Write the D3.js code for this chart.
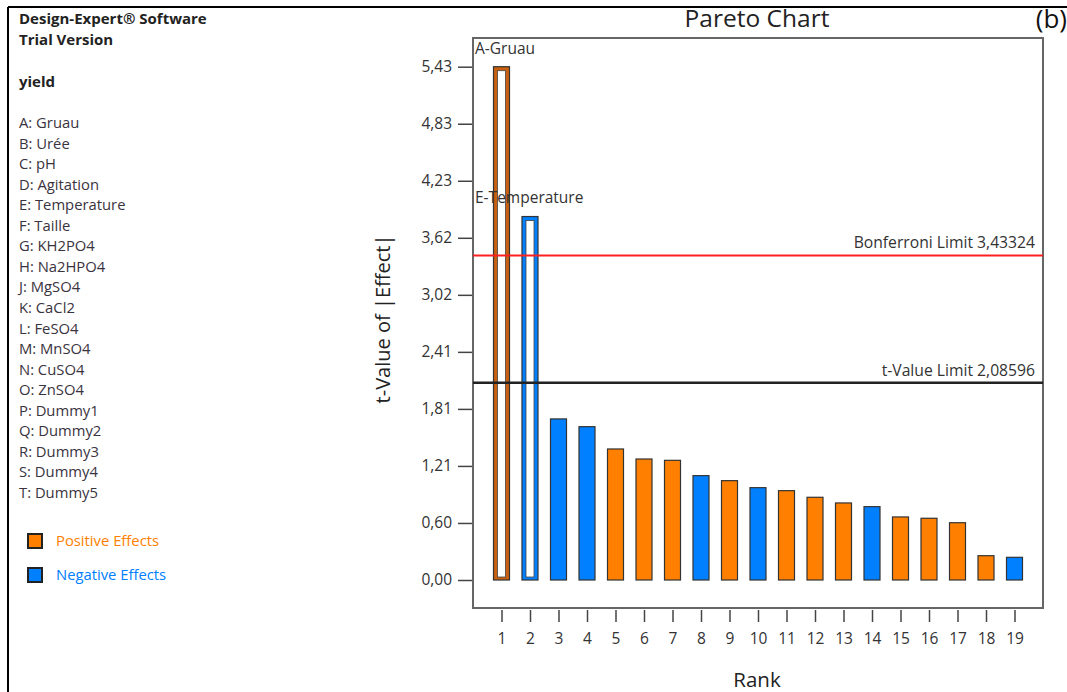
<!DOCTYPE html>
<html>
<head>
<meta charset="utf-8">
<script src="https://cdn.jsdelivr.net/npm/d3@7"></script>
<style>
  body { margin: 0; background: #fff; }
  svg { display: block; font-family: "Open Sans", sans-serif; }
</style>
</head>
<body>
<svg id="chart"></svg>
<script>
// ---------------- data ----------------
const ranks = d3.range(1, 20);
const tValues = [5.43, 3.845, 1.704, 1.622, 1.386, 1.28, 1.266, 1.104, 1.051, 0.977,
                 0.945, 0.875, 0.815, 0.776, 0.667, 0.653, 0.606, 0.257, 0.240];
const effectSign = ["+", "-", "-", "-", "+", "+", "+", "-", "+", "-",
                    "+", "+", "+", "-", "+", "+", "+", "+", "-"];
const barLabels = ["A-Gruau", "E-Temperature"];
const yTickValues = [0, 0.6033, 1.2067, 1.81, 2.4133, 3.0167, 3.62, 4.2233, 4.8267, 5.43];
const yTickLabels = ["0,00", "0,60", "1,21", "1,81", "2,41", "3,02", "3,62", "4,23", "4,83", "5,43"];
const bonferroni = 3.43324;
const tLimit = 2.08596;
const factors = ["A: Gruau", "B: Urée", "C: pH", "D: Agitation", "E: Temperature", "F: Taille",
  "G: KH2PO4", "H: Na2HPO4", "J: MgSO4", "K: CaCl2", "L: FeSO4", "M: MnSO4", "N: CuSO4",
  "O: ZnSO4", "P: Dummy1", "Q: Dummy2", "R: Dummy3", "S: Dummy4", "T: Dummy5"];

// ---------------- setup ----------------
const width = 1067, height = 692;
const svg = d3.select("#chart").attr("width", width).attr("height", height);

const plot = { left: 473, right: 1043, top: 38, bottom: 608 };
const xScale = d3.scaleLinear().domain([0, 20]).range([plot.left, plot.right]);
const yScale = d3.scaleLinear().domain([0, 5.43]).range([580, 66.7]);

const posColor = "#ff8000", negColor = "#0080ff";
const barW = 16;

// outer figure lines
svg.append("line").attr("x1", 8).attr("y1", 7).attr("x2", width).attr("y2", 7)
  .attr("stroke", "#000").attr("stroke-width", 2);
svg.append("line").attr("x1", 8).attr("y1", 7).attr("x2", 8).attr("y2", height)
  .attr("stroke", "#000").attr("stroke-width", 2);

// ---------------- left panel ----------------
svg.append("text").attr("x", 19).attr("y", 24).text("Design-Expert® Software")
  .attr("font-weight", "bold").attr("font-size", 15).attr("fill", "#222");
svg.append("text").attr("x", 19).attr("y", 45).text("Trial Version")
  .attr("font-weight", "bold").attr("font-size", 15).attr("fill", "#222");
svg.append("text").attr("x", 19).attr("y", 87).text("yield")
  .attr("font-weight", "bold").attr("font-size", 15).attr("fill", "#222");

svg.append("g").selectAll("text").data(factors).join("text")
  .attr("x", 19).attr("y", (d, i) => 128 + i * 20.55)
  .attr("font-size", 14.8).attr("fill", "#3a3340")
  .text(d => d);

const legend = [
  { label: "Positive Effects", color: posColor, y: 541 },
  { label: "Negative Effects", color: negColor, y: 575 }
];
const lg = svg.append("g").selectAll("g").data(legend).join("g");
lg.append("rect").attr("x", 28).attr("y", d => d.y - 7).attr("width", 14).attr("height", 14)
  .attr("fill", d => d.color).attr("stroke", "#222").attr("stroke-width", 2);
lg.append("text").attr("x", 56).attr("y", d => d.y + 5).attr("font-size", 14.8)
  .attr("fill", d => d.color).text(d => d.label);

// ---------------- titles ----------------
svg.append("text").attr("x", 757).attr("y", 27).attr("text-anchor", "middle")
  .attr("font-size", 24.5).attr("fill", "#222").text("Pareto Chart");
svg.append("text").attr("x", 1067).attr("y", 28).attr("text-anchor", "end")
  .attr("font-size", 26).attr("fill", "#111").text("(b)");

svg.append("text")
  .attr("transform", "translate(390,319) rotate(-90)")
  .attr("text-anchor", "middle").attr("font-size", 20).attr("fill", "#222")
  .text("t-Value of |Effect|");
svg.append("text").attr("x", 757).attr("y", 687).attr("text-anchor", "middle")
  .attr("font-size", 20.5).attr("fill", "#222").text("Rank");

// ---------------- axes ----------------
const yAxis = svg.append("g")
  .attr("transform", "translate(" + plot.left + ",0)")
  .call(d3.axisLeft(yScale).tickValues(yTickValues)
    .tickFormat((d, i) => yTickLabels[i]).tickSize(15).tickPadding(6));
yAxis.select(".domain").remove();

const xAxis = svg.append("g")
  .attr("transform", "translate(0," + (plot.bottom + 2) + ")")
  .call(d3.axisBottom(xScale).tickValues(ranks).tickSize(12).tickPadding(11));
xAxis.select(".domain").remove();

svg.selectAll(".tick line").attr("stroke", "#444").attr("stroke-width", 1.5);
svg.selectAll(".tick text").attr("font-size", 15.5).attr("fill", "#333")
  .attr("font-family", "'Open Sans', sans-serif");

// plot frame
svg.append("rect").attr("x", plot.left).attr("y", plot.top)
  .attr("width", plot.right - plot.left).attr("height", plot.bottom - plot.top)
  .attr("fill", "none").attr("stroke", "#666").attr("stroke-width", 2);

// ---------------- bars ----------------
const bars = ranks.map((r, i) => ({ rank: r, t: tValues[i], sign: effectSign[i] }));

svg.append("g").selectAll("rect").data(bars).join("rect")
  .attr("x", d => xScale(d.rank) - barW / 2)
  .attr("y", d => yScale(d.t))
  .attr("width", barW)
  .attr("height", d => yScale(0) - yScale(d.t))
  .attr("fill", (d, i) => i === 0 ? "#c8600f" : (d.sign === "+" ? posColor : negColor))
  .attr("stroke", "#333").attr("stroke-width", 1.2);

// hollow top-two bars (significant effects)
svg.append("g").selectAll("rect").data(bars.slice(0, 2)).join("rect")
  .attr("x", d => xScale(d.rank) - barW / 2 + 4)
  .attr("y", d => yScale(d.t) + 4)
  .attr("width", barW - 8)
  .attr("height", d => yScale(0) - yScale(d.t) - 7)
  .attr("fill", "#fff").attr("stroke", "#444").attr("stroke-width", 0.8);

// ---------------- limit lines ----------------
svg.append("line").attr("x1", plot.left).attr("x2", plot.right)
  .attr("y1", yScale(bonferroni)).attr("y2", yScale(bonferroni))
  .attr("stroke", "#ff2020").attr("stroke-width", 2);
svg.append("line").attr("x1", plot.left).attr("x2", plot.right)
  .attr("y1", yScale(tLimit)).attr("y2", yScale(tLimit))
  .attr("stroke", "#222").attr("stroke-width", 2.5);

svg.append("text").attr("x", 1035).attr("y", yScale(bonferroni) - 7)
  .attr("text-anchor", "end").attr("font-size", 15.7).attr("fill", "#333")
  .text("Bonferroni Limit 3,43324");
svg.append("text").attr("x", 1035).attr("y", yScale(tLimit) - 7)
  .attr("text-anchor", "end").attr("font-size", 15.7).attr("fill", "#333")
  .text("t-Value Limit 2,08596");

// labels of significant effects
svg.append("text").attr("x", 475).attr("y", 54).attr("font-size", 15.5).attr("fill", "#333")
  .text(barLabels[0]);
svg.append("text").attr("x", 475).attr("y", 203).attr("font-size", 15.5).attr("fill", "#333")
  .text(barLabels[1]);
</script>
</body>
</html>
